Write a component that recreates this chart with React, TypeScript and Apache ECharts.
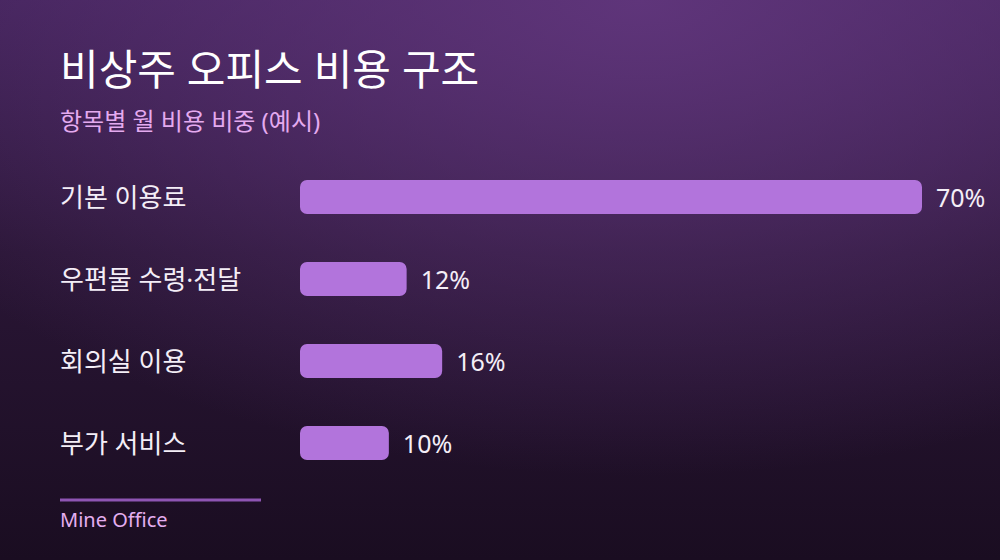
import React, { useEffect, useRef } from "react";
import * as echarts from "echarts";

const categories = ["기본 이용료", "우편물 수령·전달", "회의실 이용", "부가 서비스"];
const shares = [70, 12, 16, 10];
const titleText = "비상주 오피스 비용 구조";
const subtitleText = "항목별 월 비용 비중 (예시)";
const footerText = "Mine Office";

const FONT = '"Noto Sans", "Noto Sans CJK KR", sans-serif';

export default function App() {
  const ref = useRef<HTMLDivElement>(null);
  useEffect(() => {
    document.body.style.margin = "0";
    const chart = echarts.init(ref.current!, null, { renderer: "svg" });
    chart.setOption({
      animation: false,
      graphic: [
        {
          type: "rect",
          z: -10,
          silent: true,
          shape: { x: 0, y: 0, width: 1000, height: 560 },
          style: {
            fill: {
              type: "linear", x: 0, y: 0, x2: 0, y2: 1,
              colorStops: [
                { offset: 0, color: "#42235a" },
                { offset: 0.45, color: "#2a1636" },
                { offset: 1, color: "#1a0d21" },
              ],
            },
          },
        },
        {
          type: "rect",
          z: -9,
          silent: true,
          shape: { x: 0, y: 0, width: 1000, height: 560 },
          style: {
            fill: {
              type: "radial", x: 0.64, y: 0, r: 0.85,
              colorStops: [
                { offset: 0, color: "rgba(100,56,128,0.85)" },
                { offset: 1, color: "rgba(100,56,128,0)" },
              ],
            },
          },
        },
        {
          type: "text",
          left: 60,
          top: 47,
          style: { text: titleText, fill: "#ffffff", font: `normal 42px ${FONT}` },
        },
        {
          type: "text",
          left: 60,
          top: 108,
          style: { text: subtitleText, fill: "#e4aaef", font: `24px ${FONT}` },
        },
        {
          type: "line",
          shape: { x1: 60, y1: 500, x2: 261, y2: 500 },
          style: { stroke: "#8e55b3", lineWidth: 3 },
        },
        {
          type: "text",
          left: 60,
          top: 509,
          style: { text: footerText, fill: "#e4aef0", font: `20px ${FONT}` },
        },
      ],
      grid: { left: 300, right: 78, top: 156, bottom: 76, containLabel: false },
      xAxis: {
        type: "value",
        min: 0,
        max: 70,
        show: false,
      },
      yAxis: {
        type: "category",
        data: categories,
        inverse: true,
        axisLine: { show: false },
        axisTick: { show: false },
        splitLine: { show: false },
        axisLabel: {
          align: "left",
          margin: 240,
          color: "#f4eef7",
          fontSize: 26,
          fontFamily: FONT,
        },
      },
      series: [
        {
          type: "bar",
          data: shares,
          barWidth: 34,
          itemStyle: { color: "#b274dc", borderRadius: 7 },
          label: {
            show: true,
            position: "right",
            distance: 14,
            formatter: "{c}%",
            color: "#f4eef7",
            fontSize: 25,
            fontFamily: FONT,
          },
        },
      ],
    });
    return () => chart.dispose();
  }, []);
  return (
    <div
      ref={ref}
      style={{ position: "absolute", left: 0, top: 0, width: 1000, height: 560 }}
    />
  );
}
